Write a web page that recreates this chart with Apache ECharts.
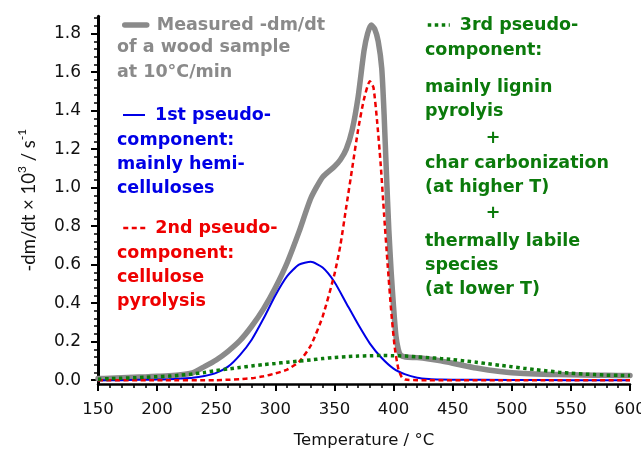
<!DOCTYPE html>
<html>
<head>
<meta charset="utf-8">
<script src="https://cdn.jsdelivr.net/npm/echarts@6/dist/echarts.min.js"></script>
<style>
  html, body { margin: 0; padding: 0; background: #ffffff; }
  #chart { width: 641px; height: 451px; }
</style>
</head>
<body>
<div id="chart"></div>
<script>
// Measured DTG curve of a wood sample (10 °C/min), -dm/dt x 10^3 in 1/s
const measuredT = [150,160,170,180,190,200,210,220,230,240,250,260,270,280,290,300,310,320,330,340,350,355,360,365,370,375,378,381,384,387,390,392,394,396,398,400,402,404,406,410,420,430,440,450,460,470,480,490,500,520,540,560,580,600];
const measuredV = [0.008,0.010,0.012,0.015,0.017,0.020,0.023,0.028,0.038,0.070,0.105,0.150,0.205,0.280,0.370,0.480,0.610,0.770,0.945,1.055,1.110,1.145,1.200,1.300,1.470,1.710,1.800,1.845,1.825,1.760,1.620,1.380,1.070,0.780,0.560,0.380,0.230,0.160,0.130,0.120,0.117,0.110,0.100,0.088,0.075,0.063,0.053,0.045,0.039,0.032,0.029,0.027,0.025,0.024];

// 1st pseudo-component: mainly hemicelluloses
const hemiT = [150,170,190,200,210,220,230,240,250,260,270,280,290,300,310,320,330,340,350,360,370,380,390,400,410,420,430,440,450,500,550,600];
const hemiV = [0.000,0.000,0.002,0.003,0.005,0.008,0.012,0.022,0.038,0.070,0.130,0.210,0.320,0.440,0.540,0.600,0.615,0.585,0.510,0.400,0.290,0.190,0.115,0.060,0.030,0.013,0.006,0.003,0.002,0.001,0.000,0.000];

// 2nd pseudo-component: cellulose pyrolysis
const celluloseT = [150,200,250,260,270,280,290,300,310,320,330,340,350,355,360,365,370,375,380,383,386,389,392,395,398,401,404,407,410,420,500,600];
const celluloseV = [0.000,0.000,0.000,0.002,0.005,0.010,0.020,0.035,0.055,0.095,0.180,0.330,0.550,0.700,0.900,1.100,1.300,1.460,1.553,1.520,1.350,1.130,0.860,0.600,0.360,0.170,0.060,0.015,0.003,0.000,0.000,0.000];

// 3rd pseudo-component: lignin, char carbonization, labile species
const ligninT = [150,160,170,180,190,200,210,220,230,240,250,260,270,280,290,300,310,320,330,340,350,360,370,380,390,400,410,420,430,440,450,460,470,480,490,500,510,520,530,540,550,560,570,580,590,600];
const ligninV = [0.005,0.008,0.010,0.012,0.015,0.018,0.021,0.026,0.032,0.040,0.050,0.058,0.066,0.074,0.081,0.087,0.093,0.099,0.105,0.112,0.118,0.122,0.125,0.127,0.128,0.127,0.125,0.121,0.117,0.112,0.107,0.100,0.093,0.085,0.077,0.070,0.062,0.055,0.048,0.041,0.036,0.032,0.029,0.026,0.025,0.024];

// Axis ticks
const xTicks = [150,200,250,300,350,400,450,500,550,600];
const yTickLabels = [0.0,0.2,0.4,0.6,0.8,1.0,1.2,1.4,1.6,1.8];
const yMinorStep = 0.04;

const yMinorTicks = [];
for (let k = 1; k * yMinorStep <= 1.885; k++) {
  const v = Math.round(k * yMinorStep * 100) / 100;
  if (Math.abs(v / 0.2 - Math.round(v / 0.2)) > 1e-6) yMinorTicks.push(v);
}

const pairs = (xs, ys) => xs.map((x, i) => [x, ys[i]]);

const GRAY = '#8a8a8a', BLUE = '#0000e6', RED = '#ee0000', GREEN = '#0b7a0b';
const FONT = '"DejaVu Sans", Verdana, sans-serif';
const boldFont = 'bold 17.5px ' + FONT;

function noteText(x, y, text, color, align) {
  return {
    type: 'text', x: x, y: y, z: 100,
    style: {
      text: text, fill: color, font: boldFont, lineHeight: 24.3,
      align: align || 'left', verticalAlign: 'top'
    }
  };
}

function legendAt(name, left, top, color) {
  return {
    show: true, data: [name], left: left, top: top, padding: 0,
    itemWidth: 22, itemHeight: 14, selectedMode: false,
    itemStyle: { opacity: 0 },
    lineStyle: { width: 'inherit', type: 'inherit', color: 'inherit' },
    textStyle: { color: color, fontFamily: FONT, fontWeight: 'bold', fontSize: 17.5, lineHeight: 24, padding: [0, 0, 0, 5] }
  };
}

const chart = echarts.init(document.getElementById('chart'), null, { renderer: 'canvas' });

chart.setOption({
  animation: false,
  backgroundColor: '#ffffff',
  grid: { left: 98, right: 11, top: 16.3, bottom: 67, containLabel: false, outerBoundsMode: 'none' },
  legend: [
    legendAt('Measured -dm/dt', 122, 13, GRAY),
    legendAt('1st pseudo-', 122, 103, BLUE),
    legendAt('2nd pseudo-', 122, 216, RED),
    legendAt('3rd pseudo-', 426, 13, GREEN)
  ],
  xAxis: {
    type: 'value', min: 150, max: 600, interval: 50,
    name: 'Temperature / °C', nameLocation: 'middle', nameGap: 48,
    nameTextStyle: { fontFamily: FONT, fontSize: 16.5, color: '#111' },
    axisLine: { onZero: false, lineStyle: { color: '#000', width: 2.5 } },
    axisTick: { length: 7, lineStyle: { color: '#000', width: 2 } },
    minorTick: { show: true, splitNumber: 5, length: 4, lineStyle: { color: '#000', width: 1.5 } },
    axisLabel: { margin: 17, fontFamily: FONT, fontSize: 16.5, color: '#111', customValues: xTicks },
    splitLine: { show: false }, minorSplitLine: { show: false }
  },
  yAxis: [
    {
      type: 'value', min: -0.02, max: 1.89, position: 'left',
      name: '{t|-dm/dt × 10}{s|3}{t| / s}{s|-1}', nameLocation: 'middle', nameGap: 59,
      nameTextStyle: {
        rich: {
          t: { fontFamily: 'Lato, "Open Sans", sans-serif', fontSize: 18.5, color: '#111', verticalAlign: 'bottom', lineHeight: 23 },
          s: { fontFamily: 'Lato, "Open Sans", sans-serif', fontSize: 12, color: '#111', verticalAlign: 'top', lineHeight: 23 }
        }
      },
      axisLine: { show: true, onZero: false, lineStyle: { color: '#000', width: 3 } },
      axisTick: { show: true, length: 7, customValues: yTickLabels, lineStyle: { color: '#000', width: 2 } },
      axisLabel: {
        margin: 17, fontFamily: FONT, fontSize: 17, color: '#111',
        customValues: yTickLabels, formatter: v => v.toFixed(1)
      },
      splitLine: { show: false }
    },
    {
      type: 'value', min: -0.02, max: 1.89, position: 'left',
      axisLine: { show: false, onZero: false },
      axisTick: { show: true, length: 4, customValues: yMinorTicks, lineStyle: { color: '#000', width: 1.5 } },
      axisLabel: { show: false },
      splitLine: { show: false }
    }
  ],
  series: [
    {
      name: 'Measured -dm/dt', type: 'line', data: pairs(measuredT, measuredV),
      symbol: 'none', smooth: 0.2,
      lineStyle: { color: GRAY, width: 5.5, cap: 'round', join: 'round' }, itemStyle: { color: GRAY }, z: 2
    },
    {
      name: '1st pseudo-', type: 'line', data: pairs(hemiT, hemiV),
      symbol: 'none', smooth: 0.2,
      lineStyle: { color: BLUE, width: 2 }, itemStyle: { color: BLUE }, z: 3
    },
    {
      name: '2nd pseudo-', type: 'line', data: pairs(celluloseT, celluloseV),
      symbol: 'none', smooth: 0.2,
      lineStyle: { color: RED, width: 2.5, type: [5, 3.5] }, itemStyle: { color: RED }, z: 4
    },
    {
      name: '3rd pseudo-', type: 'line', data: pairs(ligninT, ligninV),
      symbol: 'none', smooth: 0.2,
      lineStyle: { color: GREEN, width: 3.5, type: [3.5, 3.5] }, itemStyle: { color: GREEN }, z: 5
    }
  ],
  graphic: [
    noteText(117, 35.8, 'of a wood sample\nat 10°C/min', GRAY),
    noteText(117, 128, 'component:\nmainly hemi-\ncelluloses', BLUE),
    noteText(117, 241, 'component:\ncellulose\npyrolysis', RED),
    noteText(425, 38, 'component:', GREEN),
    noteText(425, 75, 'mainly lignin\npyrolyis', GREEN),
    noteText(493, 126, '+', GREEN, 'center'),
    noteText(425, 151, 'char carbonization\n(at higher T)', GREEN),
    noteText(493, 201, '+', GREEN, 'center'),
    noteText(425, 229, 'thermally labile\nspecies\n(at lower T)', GREEN)
  ]
});
</script>
</body>
</html>
